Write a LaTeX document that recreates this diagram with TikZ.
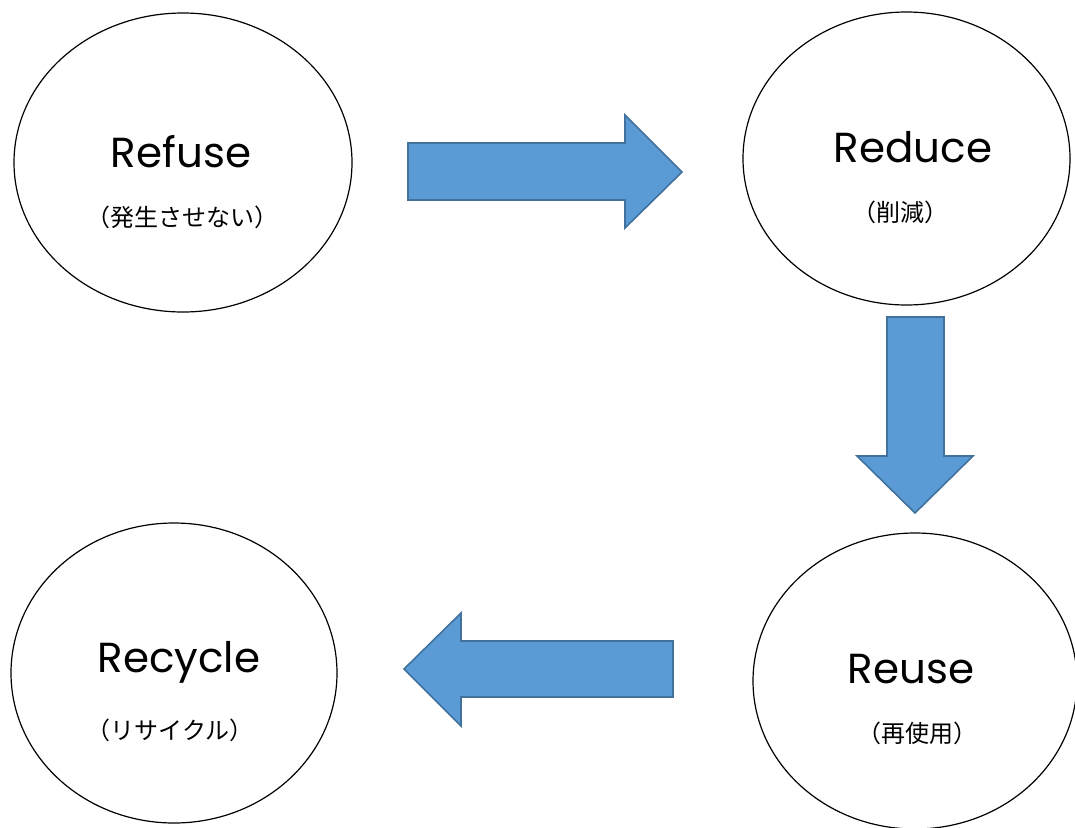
\documentclass[tikz,border=0pt]{standalone}
\usepackage{fontspec}
\setmainfont{Poppins}
\newfontfamily\jp{Noto Sans CJK JP}
\usetikzlibrary{shapes.geometric}
\definecolor{arrowfill}{HTML}{5B9BD5}
\definecolor{arrowline}{HTML}{41719C}
\tikzset{
  circ/.style={draw=black, line width=1.2pt, ellipse, fill=white},
  big/.style={font=\fontsize{42}{46}\selectfont, inner sep=0pt},
  small/.style={font=\jp\fontsize{24}{27}\selectfont, inner sep=0pt},
  blockarrow/.style={fill=arrowfill, draw=arrowline, line width=1.6pt, line join=miter}
}
\begin{document}
\begin{tikzpicture}[x=1pt,y=-1pt]
\useasboundingbox (0,0) rectangle (1075,827);
\clip (0,0) rectangle (1075,827);
% ellipses
\node[circ, minimum width=338pt, minimum height=299pt] (refuse) at (183,162.5) {};
\node[circ, minimum width=327pt, minimum height=293pt] (reduce) at (906.5,158.5) {};
\node[circ, minimum width=324pt, minimum height=296pt] (reuse) at (915,681) {};
\node[circ, minimum width=326pt, minimum height=300pt] (recycle) at (174,673) {};
% texts
\node[big] (t1) at (181,152) {Refuse};
\node[small] (j1) at (182,217) {（発生させない）};
\node[big] (t2) at (913,147) {Reduce};
\node[small] (j2) at (900,212) {（削減）};
\node[big] (t3) at (911,669) {Reuse};
\node[small] (j3) at (917,733) {（再使用）};
\node[big] (t4) at (179,662) {Recycle};
\node[small] (j4) at (170,730) {（リサイクル）};
% block arrows
\draw[blockarrow] (408,143) -- (625,143) -- (625,115) -- (682,172) -- (625,228) -- (625,200) -- (408,200) -- cycle;
\draw[blockarrow] (887,317) -- (944,317) -- (944,456) -- (973,456) -- (915,513) -- (857,456) -- (887,456) -- cycle;
\draw[blockarrow] (673,641) -- (461,641) -- (461,613) -- (404,669) -- (461,726) -- (461,697) -- (673,697) -- cycle;
\end{tikzpicture}
\end{document}
